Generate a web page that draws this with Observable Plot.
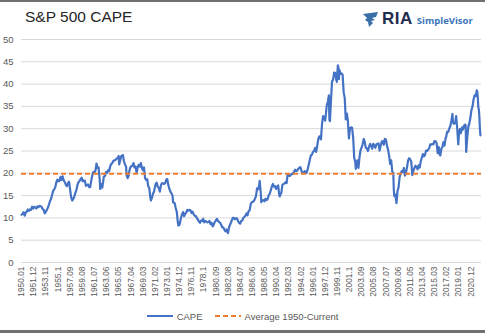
<!DOCTYPE html>
<html>
<head>
<meta charset="utf-8">
<script src="https://cdn.jsdelivr.net/npm/d3@7"></script>
<script src="https://cdn.jsdelivr.net/npm/@observablehq/plot@0.6"></script>
<style>
  html, body { margin: 0; padding: 0; background: #fff; }
  #wrap { position: relative; width: 485px; height: 333px; overflow: hidden; background: #fff; font-family: "Liberation Sans", Arial, sans-serif; }
  #topline { position: absolute; left: 0; top: 0; width: 485px; height: 2px; background: #707070; }
  #botline { position: absolute; left: 0; top: 330px; width: 485px; height: 3px; background: #707070; }
  #title { position: absolute; left: 25px; top: 8px; font-size: 15.5px; color: #262626; }
  #logo { position: absolute; left: 362px; top: 9px; display: flex; align-items: center; }
  #logo .ria { font-family: "Liberation Sans", Arial, sans-serif; font-weight: bold; font-size: 17px; color: #1f2d4e; margin-left: 3px; letter-spacing: 0.5px; }
  #logo .sv { font-family: "Open Sans", "Liberation Sans", sans-serif; font-weight: bold; font-size: 9.5px; color: #3b73b9; margin-left: 4px; margin-top: 3px; }
  #chart { position: absolute; left: 0; top: 30px; }
  #legend { position: absolute; left: 0; top: 308px; width: 485px; height: 16px; display: flex; justify-content: center; align-items: center; font-family: "Liberation Sans", Arial, sans-serif; font-size: 9.5px; color: #595959; }
  #legend .item { display: flex; align-items: center; margin: 0 6px; }
  #legend svg { margin-right: 4px; }
</style>
</head>
<body>
<div id="wrap">
  <div id="topline"></div>
  <div id="title">S&amp;P 500 CAPE</div>
  <div id="logo">
    <svg width="17" height="17" viewBox="0 0 17 17">
      <path d="M1 3 L16 1 L14 6 L10 7 L13 9 L9 10 L11 12 L7 16 L6 11 L3 9 L5 7 Z" fill="#3a6ea8"/>
    </svg>
    <span class="ria">RIA</span><span class="sv">SimpleVisor</span>
  </div>
  <div id="chart"></div>
  <div id="legend"></div>
  <div id="botline"></div>
</div>
<script>
// ---- Data ----
const capeDates = [
"1950.01","1950.03","1950.05","1950.07","1950.09","1950.11",
"1951.01","1951.03","1951.05","1951.07","1951.09","1951.11",
"1952.01","1952.03","1952.05","1952.07","1952.09","1952.11",
"1953.01","1953.03","1953.05","1953.07","1953.09","1953.11",
"1954.01","1954.03","1954.05","1954.07","1954.09","1954.11",
"1955.01","1955.03","1955.05","1955.07","1955.09","1955.11",
"1956.01","1956.03","1956.05","1956.07","1956.09","1956.11",
"1957.01","1957.03","1957.05","1957.07","1957.09","1957.11",
"1958.01","1958.03","1958.05","1958.07","1958.09","1958.11",
"1959.01","1959.03","1959.05","1959.07","1959.09","1959.11",
"1960.01","1960.03","1960.05","1960.07","1960.09","1960.11",
"1961.01","1961.03","1961.05","1961.07","1961.09","1961.11",
"1962.01","1962.03","1962.05","1962.06","1962.08","1962.10","1962.12",
"1963.01","1963.03","1963.05","1963.07","1963.09","1963.11",
"1964.01","1964.03","1964.05","1964.07","1964.09","1964.11",
"1965.01","1965.03","1965.05","1965.06","1965.08","1965.10","1965.12",
"1966.01","1966.03","1966.05","1966.07","1966.08","1966.10","1966.12",
"1967.01","1967.03","1967.05","1967.07","1967.09","1967.11",
"1968.01","1968.03","1968.05","1968.07","1968.09","1968.11","1968.12",
"1969.01","1969.03","1969.05","1969.07","1969.09","1969.11",
"1970.01","1970.03","1970.05","1970.06","1970.08","1970.10","1970.12",
"1971.01","1971.03","1971.05","1971.07","1971.09","1971.11",
"1972.01","1972.03","1972.05","1972.07","1972.09","1972.11","1972.12",
"1973.01","1973.03","1973.05","1973.07","1973.09","1973.11","1973.12",
"1974.01","1974.03","1974.05","1974.07","1974.09","1974.10","1974.12",
"1975.01","1975.03","1975.05","1975.07","1975.09","1975.11",
"1976.01","1976.03","1976.05","1976.07","1976.09","1976.11",
"1977.01","1977.03","1977.05","1977.07","1977.09","1977.11",
"1978.01","1978.03","1978.05","1978.07","1978.09","1978.11",
"1979.01","1979.03","1979.05","1979.07","1979.09","1979.11",
"1980.01","1980.03","1980.05","1980.07","1980.09","1980.11",
"1981.01","1981.03","1981.05","1981.07","1981.09","1981.11",
"1982.01","1982.03","1982.05","1982.07","1982.08","1982.10","1982.12",
"1983.01","1983.03","1983.05","1983.07","1983.09","1983.11",
"1984.01","1984.03","1984.05","1984.07","1984.09","1984.11",
"1985.01","1985.03","1985.05","1985.07","1985.09","1985.11",
"1986.01","1986.03","1986.05","1986.07","1986.09","1986.11",
"1987.01","1987.03","1987.05","1987.07","1987.08","1987.10","1987.11","1987.12",
"1988.01","1988.03","1988.05","1988.07","1988.09","1988.11",
"1989.01","1989.03","1989.05","1989.07","1989.09","1989.11",
"1990.01","1990.03","1990.05","1990.07","1990.09","1990.10","1990.12",
"1991.01","1991.03","1991.05","1991.07","1991.09","1991.11",
"1992.01","1992.03","1992.05","1992.07","1992.09","1992.11",
"1993.01","1993.03","1993.05","1993.07","1993.09","1993.11",
"1994.01","1994.03","1994.05","1994.07","1994.09","1994.11",
"1995.01","1995.03","1995.05","1995.07","1995.09","1995.11",
"1996.01","1996.03","1996.05","1996.07","1996.09","1996.11",
"1997.01","1997.03","1997.04","1997.06","1997.08","1997.10","1997.12",
"1998.01","1998.03","1998.05","1998.07","1998.08","1998.09","1998.11",
"1999.01","1999.03","1999.05","1999.07","1999.09","1999.10","1999.12",
"2000.01","2000.02","2000.03","2000.05","2000.07","2000.09","2000.11",
"2001.01","2001.03","2001.05","2001.07","2001.09","2001.11",
"2002.01","2002.03","2002.05","2002.07","2002.09","2002.10","2002.12",
"2003.01","2003.03","2003.05","2003.07","2003.09","2003.11",
"2004.01","2004.03","2004.05","2004.07","2004.09","2004.11",
"2005.01","2005.03","2005.05","2005.07","2005.09","2005.11",
"2006.01","2006.03","2006.05","2006.07","2006.09","2006.11",
"2007.01","2007.03","2007.05","2007.07","2007.09","2007.11",
"2008.01","2008.03","2008.05","2008.07","2008.09","2008.10","2008.11","2008.12",
"2009.01","2009.03","2009.05","2009.07","2009.09","2009.11",
"2010.01","2010.03","2010.05","2010.07","2010.09","2010.11",
"2011.01","2011.03","2011.05","2011.07","2011.09","2011.11",
"2012.01","2012.03","2012.05","2012.07","2012.09","2012.11",
"2013.01","2013.03","2013.05","2013.07","2013.09","2013.11",
"2014.01","2014.03","2014.05","2014.07","2014.09","2014.11",
"2015.01","2015.03","2015.05","2015.07","2015.09","2015.11",
"2016.01","2016.02","2016.04","2016.06","2016.08","2016.10","2016.12",
"2017.01","2017.03","2017.05","2017.07","2017.09","2017.11",
"2018.01","2018.02","2018.04","2018.06","2018.08","2018.10","2018.12",
"2019.01","2019.03","2019.05","2019.07","2019.09","2019.11",
"2020.01","2020.02","2020.03","2020.05","2020.07","2020.09","2020.11",
"2021.01","2021.03","2021.05","2021.07","2021.09","2021.11","2021.12",
"2022.01","2022.02","2022.03","2022.04","2022.05","2022.06"
];
const capeValues = [
10.7,10.9,11.3,10.5,11.2,11.4,
11.9,11.6,11.9,11.8,12.5,12.1,
12.5,12.3,12.1,12.6,12.4,12.7,
12.6,12.5,12.0,11.8,11.0,11.4,
11.8,12.3,13.0,13.8,14.3,15.2,
16.1,16.4,16.9,18.0,18.6,18.2,
18.3,19.2,18.5,19.3,18.4,18.0,
17.4,17.1,17.8,18.1,16.4,14.6,
13.9,14.2,14.8,15.6,16.3,17.4,
18.0,18.3,18.7,19.0,18.2,18.4,
18.3,17.2,17.3,17.5,16.9,16.9,
18.3,19.5,20.3,20.2,20.6,22.2,
21.2,21.3,18.7,16.5,17.6,16.8,18.5,
19.3,19.4,20.3,20.1,20.7,20.5,
21.6,22.1,22.3,22.8,22.9,23.0,
23.3,23.4,23.9,22.0,23.0,23.9,24.0,
24.1,22.7,22.0,21.5,19.6,18.9,19.5,
20.4,21.3,21.6,21.7,22.3,21.3,
21.5,20.1,21.4,21.9,21.5,22.3,21.8,
21.2,20.7,21.3,18.9,18.5,18.7,
17.1,16.7,14.5,13.9,14.5,15.4,15.9,
16.5,17.6,17.9,17.0,16.7,15.9,
17.3,17.8,17.7,17.6,17.8,18.5,18.7,
18.7,17.4,16.5,15.9,15.5,15.0,13.5,
13.5,13.3,12.2,11.4,9.0,8.3,8.4,
8.9,10.0,10.8,11.3,10.4,10.9,
11.2,11.8,11.6,11.8,11.7,11.1,
11.4,10.8,10.5,10.4,10.0,9.6,
9.2,8.9,9.4,9.3,9.8,9.0,
9.3,9.2,9.0,9.1,9.3,8.6,
8.9,8.1,8.5,9.1,9.4,9.8,
9.3,9.1,8.9,8.5,7.9,7.9,
7.4,7.0,7.4,6.8,6.6,7.9,8.5,
8.8,9.4,10.0,10.0,9.7,9.9,
9.9,9.3,8.9,8.7,9.3,9.4,
10.0,10.2,10.5,11.0,10.6,11.5,
11.7,13.1,13.5,13.6,13.8,14.3,
14.9,16.6,16.4,17.3,18.3,15.7,13.5,13.9,
13.9,14.0,13.7,14.3,14.0,14.2,
15.1,15.4,16.2,17.0,17.6,17.0,
17.1,16.5,17.0,17.3,15.2,14.8,15.5,
15.6,17.4,17.6,17.7,18.0,17.8,
19.8,19.5,19.4,19.7,19.8,20.0,
20.3,20.8,20.5,20.6,21.0,21.2,
21.4,20.6,20.0,20.1,20.5,20.0,
20.2,21.0,22.0,23.1,24.0,24.2,
24.8,25.0,25.7,24.8,26.2,27.7,
28.3,27.9,27.6,31.0,32.8,32.6,31.8,
32.9,35.2,36.0,37.5,32.0,31.7,36.3,
40.6,41.0,42.6,42.5,41.0,40.5,44.2,
43.8,41.1,43.2,42.3,42.4,42.1,38.2,
36.9,32.1,33.4,31.8,27.8,30.1,
30.3,30.2,28.0,23.5,22.5,21.0,22.4,
22.9,21.2,23.6,25.2,25.8,26.5,
27.7,27.0,25.7,25.6,25.0,25.9,
26.6,26.2,25.5,26.6,26.2,25.7,
26.5,26.6,26.7,25.1,26.1,27.1,
27.2,26.4,27.7,27.6,26.2,25.3,
24.0,22.1,22.9,20.4,20.1,16.2,14.9,15.2,
15.2,13.3,16.0,16.9,19.2,19.9,
20.5,20.3,21.2,19.5,20.1,21.4,
22.9,23.4,23.1,22.6,19.6,20.5,
21.2,21.7,21.4,20.9,21.8,21.3,
22.7,23.5,24.3,23.8,24.1,25.1,
25.0,25.3,25.6,26.5,26.4,26.6,
26.5,27.2,27.2,26.8,24.5,25.9,
24.2,24.0,25.5,25.9,27.0,26.2,27.9,
28.1,29.3,29.3,30.0,30.6,31.8,
33.3,31.4,31.1,31.2,32.8,30.1,26.5,
28.4,29.9,29.0,30.3,29.8,30.7,
30.9,30.8,24.8,28.0,30.4,31.2,32.5,
34.2,35.0,36.6,37.5,37.3,38.6,38.3,
36.9,34.8,34.3,32.6,30.0,28.5
];
const averageValue = 19.9; // Average 1950-Current
const xTickLabels = [
"1950.01","1951.12","1953.11","1955.1","1957.09","1959.08","1961.07","1963.06",
"1965.05","1967.04","1969.03","1971.02","1973.01","1974.12","1976.11","1978.1",
"1980.09","1982.08","1984.07","1986.06","1988.05","1990.04","1992.03","1994.02",
"1996.01","1997.12","1999.11","2001.1","2003.09","2005.08","2007.07","2009.06",
"2011.05","2013.04","2015.03","2017.02","2019.01","2020.12"
];
const yTicks = [0,5,10,15,20,25,30,35,40,45,50];
const seriesNames = ["CAPE", "Average 1950-Current"];

// month index since 1950.01 for category positions
function monthIndex(s) {
  const [y, m] = s.split(".");
  let mm = m.length === 1 ? +m * 10 : +m;
  return (+y - 1950) * 12 + (mm - 1);
}
const data = capeDates.map((d, i) => ({i: monthIndex(d), v: capeValues[i]}));
const tickIdx = xTickLabels.map(monthIndex);
const labelByIdx = new Map(tickIdx.map((t, k) => [t, xTickLabels[k]]));

const blue = "#4472C4", orange = "#ED7D31";

const chart = Plot.plot({
  width: 485,
  height: 277,
  marginTop: 9,
  marginLeft: 21,
  marginRight: 4,
  marginBottom: 45,
  x: {domain: [0, 871]},
  y: {domain: [0, 50]},
  style: {fontFamily: "'Liberation Sans', Arial, sans-serif", color: "#595959", background: "transparent", overflow: "visible"},
  marks: [
    Plot.gridY(yTicks, {stroke: "#d9d9d9", strokeOpacity: 1, strokeWidth: 1}),
    Plot.axisY(yTicks, {tickSize: 0, tickPadding: 8, fontSize: 9.5, label: null}),
    Plot.axisX(tickIdx, {tickSize: 0, tickPadding: 4, tickRotate: -90, fontSize: 8.4, label: null,
      tickFormat: d => labelByIdx.get(d)}),
    Plot.line(data, {x: "i", y: "v", stroke: blue, strokeWidth: 2.2, strokeLinejoin: "round"}),
    Plot.ruleY([averageValue], {stroke: orange, strokeWidth: 2, strokeDasharray: "5,3"})
  ]
});
document.getElementById("chart").appendChild(chart);

// legend
const legend = document.getElementById("legend");
seriesNames.forEach((name, k) => {
  const item = document.createElement("div");
  item.className = "item";
  const dash = k === 1 ? ' stroke-dasharray="5,3"' : '';
  item.innerHTML = `<svg width="26" height="6"><line x1="0" y1="3" x2="26" y2="3" stroke="${k === 0 ? blue : orange}" stroke-width="2"${dash}/></svg><span>${name}</span>`;
  legend.appendChild(item);
});
</script>
</body>
</html>
